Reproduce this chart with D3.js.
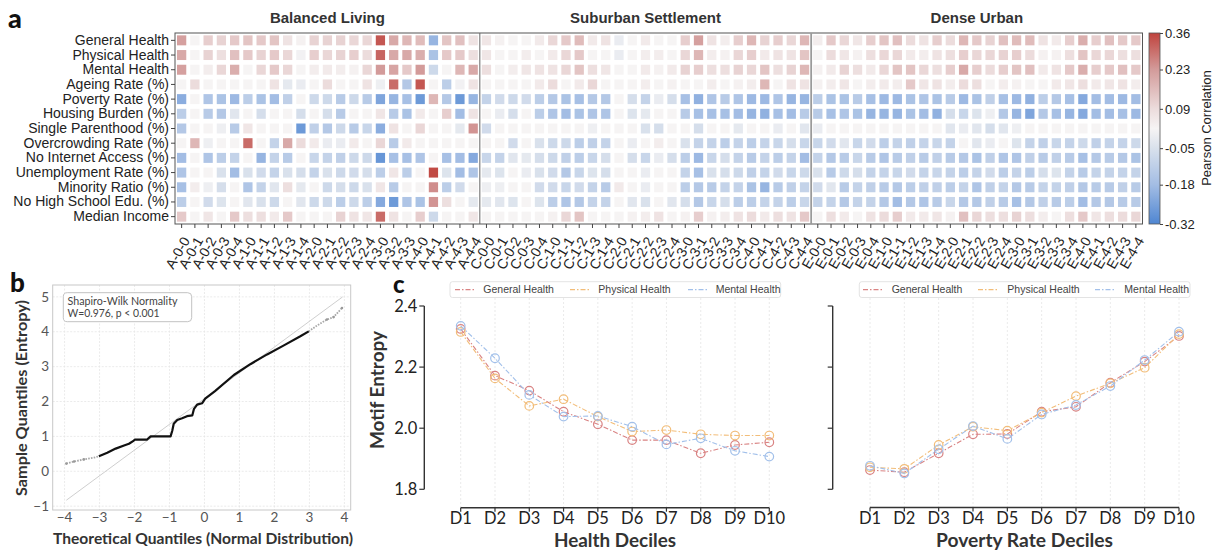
<!DOCTYPE html>
<html><head><meta charset="utf-8">
<script src="https://cdn.jsdelivr.net/npm/d3@7"></script>
<style>body{margin:0;background:#fff}svg{display:block}</style>
</head><body><svg id="c" width="1220" height="551"></svg>
<script>
// ---------------- DATA ----------------
const rowLabels = ["General Health","Physical Health","Mental Health","Ageing Rate (%)","Poverty Rate (%)","Housing Burden (%)","Single Parenthood (%)","Overcrowding Rate (%)","No Internet Access (%)","Unemployment Rate (%)","Minority Ratio (%)","No High School Edu. (%)","Median Income"];
const sectionNames = ["Balanced Living","Suburban Settlement","Dense Urban"];
const colsA = ["A-0-0","A-0-1","A-0-2","A-0-3","A-0-4","A-1-0","A-1-1","A-1-2","A-1-3","A-1-4","A-2-0","A-2-1","A-2-2","A-2-3","A-2-4","A-3-0","A-3-2","A-3-3","A-4-0","A-4-1","A-4-2","A-4-3","A-4-4"];
const colsC = ["C-0-0","C-0-1","C-0-2","C-0-3","C-0-4","C-1-0","C-1-1","C-1-2","C-1-3","C-1-4","C-2-0","C-2-1","C-2-2","C-2-3","C-2-4","C-3-0","C-3-1","C-3-2","C-3-3","C-3-4","C-4-0","C-4-1","C-4-2","C-4-3","C-4-4"];
const colsE = ["E-0-0","E-0-1","E-0-2","E-0-3","E-0-4","E-1-0","E-1-1","E-1-2","E-1-3","E-1-4","E-2-0","E-2-1","E-2-2","E-2-3","E-2-4","E-3-0","E-3-1","E-3-2","E-3-3","E-3-4","E-4-0","E-4-1","E-4-2","E-4-3","E-4-4"];

const valsA = [
[0.22,0.02,0.12,0.11,0.13,0.14,0.13,0.14,0.07,0.03,0.11,0.11,0.11,0.10,0.10,0.33,0.20,0.17,0.16,-0.20,0.14,0.15,0.07],
[0.20,0.02,0.11,0.08,0.15,0.13,0.11,0.13,0.10,0.01,0.12,0.10,0.11,0.12,0.09,0.31,0.20,0.20,0.19,-0.16,0.13,0.13,0.08],
[0.22,0.02,0.04,0.10,0.19,0.02,0.10,0.13,0.10,0.02,0.04,0.05,0.04,0.03,0.10,0.23,0.21,0.13,0.23,-0.08,0.02,0.17,0.20],
[0.02,0.09,0.02,0.02,0.02,0.02,0.02,0.07,-0.02,-0.01,0.02,0.09,0.02,0.02,0.07,0.00,0.30,-0.14,0.33,0.02,-0.12,0.01,0.07],
[-0.22,0.02,-0.15,-0.16,-0.19,-0.12,-0.16,-0.18,-0.11,0.02,-0.08,-0.08,-0.13,-0.08,-0.13,-0.24,-0.20,-0.17,-0.27,0.17,-0.14,-0.27,-0.20],
[-0.12,0.02,-0.13,-0.14,-0.03,0.02,-0.06,0.02,0.02,-0.06,0.02,-0.06,-0.13,0.02,0.02,0.06,-0.13,-0.16,0.05,0.02,0.12,-0.18,0.07],
[-0.14,0.02,0.02,0.00,-0.13,0.06,0.02,0.02,0.02,-0.27,-0.11,-0.14,-0.08,-0.13,-0.09,-0.22,0.07,0.02,0.10,0.02,0.02,-0.02,0.24],
[0.02,0.17,0.00,0.02,0.02,0.30,0.02,-0.10,0.20,0.09,0.05,-0.01,-0.01,0.05,0.02,0.10,-0.13,0.05,0.02,0.02,0.02,0.02,0.02],
[-0.18,0.02,-0.15,-0.12,-0.10,0.02,-0.20,-0.10,-0.13,0.02,-0.09,-0.10,-0.11,-0.08,-0.08,-0.28,-0.17,-0.17,-0.15,0.02,-0.17,-0.18,-0.23],
[-0.15,0.02,0.02,-0.05,-0.18,-0.05,-0.07,-0.10,-0.05,-0.06,-0.10,-0.05,-0.08,-0.07,-0.06,-0.12,0.06,-0.12,0.02,0.35,-0.04,-0.18,-0.15],
[-0.17,0.04,0.00,-0.06,0.02,-0.15,-0.10,-0.03,0.08,-0.02,0.02,-0.08,-0.06,-0.08,-0.05,0.06,-0.13,0.02,0.02,0.25,-0.12,-0.07,0.02],
[-0.12,0.02,-0.07,-0.04,0.02,-0.03,-0.05,-0.08,0.02,-0.03,-0.08,-0.08,-0.12,-0.08,-0.12,-0.23,-0.27,-0.15,-0.16,0.24,0.08,0.02,-0.02],
[0.13,0.02,0.06,0.02,0.13,0.08,0.08,0.05,0.13,0.02,0.02,0.02,0.11,0.07,0.06,0.30,0.07,0.02,0.12,-0.08,0.02,0.02,0.06]
];
const valsC = [
[0.06,0.03,0.02,0.02,0.05,0.10,0.13,0.16,0.05,0.07,-0.01,0.02,0.05,0.02,0.02,0.12,0.22,0.07,0.04,0.12,0.17,0.11,0.12,0.10,0.17],
[0.06,0.02,0.02,0.04,0.02,0.05,0.10,0.13,0.02,0.02,-0.01,0.02,0.04,0.04,0.02,0.10,0.17,0.04,0.03,0.10,0.12,0.05,0.07,0.07,0.14],
[0.08,0.02,0.04,0.06,0.07,0.07,0.10,0.14,0.08,0.06,0.02,0.02,0.05,0.03,0.05,0.11,0.12,0.08,0.08,0.11,0.10,0.14,0.08,0.11,0.17],
[0.02,0.02,0.02,0.02,0.05,0.09,0.02,0.05,0.10,0.02,0.02,0.02,0.04,0.02,0.03,0.02,0.02,0.04,0.02,0.03,0.04,0.17,0.02,0.07,0.07],
[-0.10,-0.07,-0.08,-0.07,-0.12,-0.14,-0.16,-0.17,-0.14,-0.14,0.02,-0.06,-0.10,-0.01,-0.06,-0.17,-0.21,-0.15,-0.13,-0.15,-0.19,-0.19,-0.15,-0.20,-0.20],
[0.02,-0.01,-0.06,0.02,-0.12,-0.15,-0.18,-0.16,-0.15,-0.15,0.02,-0.04,-0.02,0.02,0.02,-0.13,-0.17,-0.17,-0.17,-0.18,-0.20,-0.21,-0.17,-0.18,-0.13],
[-0.07,0.02,0.02,0.02,0.02,0.02,0.02,0.02,0.00,0.02,0.02,0.02,-0.05,-0.06,0.02,0.02,-0.06,0.02,0.02,-0.02,0.02,0.02,-0.01,0.02,-0.03],
[0.02,0.02,-0.07,0.02,-0.05,-0.08,-0.08,-0.12,-0.11,-0.10,0.02,-0.01,0.02,0.04,0.02,-0.05,-0.10,-0.10,-0.12,-0.10,-0.12,-0.10,-0.09,-0.06,-0.09],
[-0.09,-0.10,-0.03,-0.02,-0.06,-0.08,-0.11,-0.12,-0.09,-0.06,0.02,-0.06,-0.09,-0.01,-0.06,-0.12,-0.19,-0.09,-0.06,-0.10,-0.13,-0.10,-0.12,-0.10,-0.18],
[-0.02,-0.04,0.02,-0.01,-0.05,-0.07,-0.14,-0.09,-0.04,-0.06,0.02,0.02,-0.01,0.02,0.02,-0.10,-0.17,-0.05,-0.06,-0.08,-0.11,-0.10,-0.07,-0.09,-0.08],
[0.00,0.00,0.02,0.02,-0.07,-0.07,-0.09,-0.07,-0.10,-0.13,0.05,0.02,-0.01,0.02,0.02,-0.12,-0.14,-0.13,-0.10,-0.10,-0.16,-0.20,-0.13,-0.11,-0.10],
[-0.02,-0.03,-0.04,0.02,-0.04,-0.12,-0.15,-0.14,-0.10,-0.10,0.02,-0.03,-0.05,0.02,-0.03,-0.06,-0.14,-0.09,-0.06,-0.12,-0.12,-0.10,-0.10,-0.12,-0.09],
[0.02,0.02,0.02,0.02,0.02,0.03,0.10,0.14,0.02,0.02,0.02,0.03,0.04,0.07,0.02,0.03,0.12,0.03,0.04,0.07,0.09,0.05,0.08,0.07,0.13]
];
const valsE = [
[0.04,0.13,0.10,0.06,0.12,0.14,0.15,0.09,0.07,0.12,0.09,0.17,0.13,0.11,0.15,0.16,0.16,0.07,0.05,0.12,0.19,0.12,0.15,0.13,0.13],
[0.02,0.09,0.06,0.03,0.08,0.10,0.10,0.05,0.04,0.07,0.08,0.12,0.10,0.10,0.11,0.12,0.09,0.03,0.03,0.08,0.14,0.10,0.10,0.08,0.08],
[0.03,0.05,0.11,0.08,0.05,0.10,0.14,0.14,0.10,0.08,0.12,0.20,0.12,0.09,0.12,0.14,0.15,0.05,0.07,0.13,0.19,0.12,0.13,0.15,0.13],
[0.03,0.04,0.06,0.02,0.04,0.05,0.04,0.13,0.06,0.07,0.04,0.09,0.08,0.02,0.04,0.03,0.02,0.02,0.05,0.06,0.08,0.05,0.06,0.07,0.04],
[-0.12,-0.16,-0.16,-0.13,-0.17,-0.19,-0.19,-0.16,-0.15,-0.16,-0.13,-0.19,-0.16,-0.11,-0.17,-0.19,-0.21,-0.12,-0.14,-0.17,-0.23,-0.18,-0.18,-0.19,-0.18],
[-0.13,-0.17,-0.15,-0.16,-0.20,-0.20,-0.20,-0.16,-0.18,-0.21,-0.06,-0.09,-0.04,0.00,-0.14,-0.20,-0.24,-0.14,-0.17,-0.20,-0.23,-0.18,-0.18,-0.17,-0.19],
[-0.01,0.02,0.02,0.02,0.02,0.02,0.02,0.02,0.02,0.02,-0.03,-0.01,-0.03,-0.06,-0.03,0.00,0.02,0.02,0.02,0.02,0.02,0.02,0.02,0.02,0.02],
[-0.09,-0.07,-0.03,-0.09,-0.07,-0.12,-0.10,-0.11,-0.10,-0.09,-0.10,0.02,-0.03,-0.01,0.02,-0.04,-0.10,-0.11,-0.09,-0.10,-0.08,-0.11,-0.10,-0.10,-0.08],
[-0.10,-0.14,-0.13,-0.09,-0.13,-0.15,-0.13,-0.11,-0.13,-0.11,-0.13,-0.14,-0.16,-0.11,-0.15,-0.15,-0.11,-0.13,-0.11,-0.13,-0.17,-0.14,-0.13,-0.14,-0.16],
[-0.05,-0.13,-0.08,-0.06,-0.10,-0.10,-0.09,-0.07,-0.10,-0.09,-0.10,-0.12,-0.10,-0.07,-0.12,-0.10,-0.12,-0.06,-0.04,-0.10,-0.13,-0.10,-0.10,-0.10,-0.10],
[-0.07,-0.03,-0.13,-0.10,-0.11,-0.13,-0.14,-0.12,-0.11,-0.11,-0.12,-0.10,-0.15,-0.11,-0.10,-0.14,-0.13,-0.10,-0.10,-0.11,-0.14,-0.13,-0.13,-0.11,-0.13],
[-0.10,-0.10,-0.14,-0.10,-0.10,-0.14,-0.18,-0.14,-0.15,-0.13,-0.09,-0.14,-0.14,-0.11,-0.13,-0.17,-0.14,-0.11,-0.13,-0.12,-0.18,-0.14,-0.14,-0.13,-0.13],
[0.02,0.08,0.05,0.02,0.07,0.09,0.12,0.05,0.05,0.06,0.03,0.15,0.10,0.08,0.08,0.11,0.08,0.04,0.02,0.08,0.13,0.06,0.08,0.09,0.10]
];
const cbTicks = [0.36,0.23,0.09,-0.05,-0.18,-0.32];

// QQ plot
const qqTheoretical = [-3.95,-3.73,-3.45,-3.16,-3.02,-2.78,-2.54,-2.30,-2.16,-2.02,-1.99,-1.64,-1.54,-0.97,-0.92,-0.88,-0.78,-0.64,-0.50,-0.35,-0.30,-0.21,-0.07,0.02,0.30,0.84,1.31,1.79,2.27,2.74,2.98,3.22,3.50,3.69,3.93];
const qqSample      = [0.22,0.28,0.34,0.39,0.43,0.53,0.65,0.74,0.79,0.88,0.91,0.91,1.00,1.00,1.17,1.36,1.47,1.52,1.58,1.60,1.79,1.91,1.95,2.08,2.30,2.76,3.07,3.35,3.61,3.87,4.01,4.18,4.35,4.42,4.68];
const qqRefLine = [[-3.95,-0.83],[3.95,5.0]];
const qqTicksX = [-4,-3,-2,-1,0,1,2,3,4];
const qqTicksY = [-1,0,1,2,3,4,5];

// Decile line charts
const deciles = ["D1","D2","D3","D4","D5","D6","D7","D8","D9","D10"];
const seriesNames = ["General Health","Physical Health","Mental Health"];
const healthGeneral  = [2.325,2.172,2.123,2.054,2.013,1.961,1.961,1.918,1.945,1.954];
const healthPhysical = [2.315,2.163,2.073,2.095,2.038,1.989,1.994,1.980,1.976,1.976];
const healthMental   = [2.335,2.229,2.109,2.038,2.040,2.005,1.947,1.967,1.926,1.907];
const povGeneral  = [1.863,1.856,1.918,1.980,1.981,2.054,2.070,2.149,2.218,2.302];
const povPhysical = [1.872,1.867,1.945,2.005,1.992,2.051,2.105,2.147,2.198,2.308];
const povMental   = [1.877,1.852,1.931,2.007,1.965,2.045,2.076,2.138,2.223,2.316];
const entropyTicks = [1.8,2.0,2.2,2.4];

// ---------------- DRAW ----------------
const svg = d3.select("#c");
svg.append("rect").attr("width",1220).attr("height",551).attr("fill","#fff");
const ARIAL = "'Liberation Sans', Arial, sans-serif";
const ROUND = "Lato, 'Open Sans', sans-serif";

// ---- Panel a: heatmap
const cols = [...colsA, ...colsC, ...colsE];
const matrix = rowLabels.map((r,i)=>[...valsA[i], ...valsC[i], ...valsE[i]]);
const hx = d3.scaleBand().domain(cols).range([175,1142.5]);
const hy = d3.scaleBand().domain(rowLabels).range([33,224]);
const cStops = [-0.32,-0.18,-0.05,0.02,0.09,0.23,0.36];
const cCols  = ["#4f86d2","#a3bde4","#d9e1ec","#f6f4f4","#ecdcdc","#d39b9a","#c0433d"];
const color = d3.scaleLinear().domain(cStops).range(cCols).clamp(true);

const gH = svg.append("g");
const bw = hx.bandwidth(), bh = hy.bandwidth();
matrix.forEach((row,i)=>{
  row.forEach((v,j)=>{
    gH.append("rect")
      .attr("x", hx(cols[j]) + bw*0.15)
      .attr("y", hy(rowLabels[i]) + bh*0.16)
      .attr("width", bw*0.7).attr("height", bh*0.68)
      .attr("fill", color(v));
  });
});
gH.append("rect").attr("x",175).attr("y",33).attr("width",1142.5-175).attr("height",191)
  .attr("fill","none").attr("stroke","#555").attr("stroke-width",1);
gH.append("line").attr("x1",hx(colsC[0])).attr("x2",hx(colsC[0])).attr("y1",33).attr("y2",224)
  .attr("stroke","#666").attr("stroke-width",1);
gH.append("line").attr("x1",hx(colsE[0])).attr("x2",hx(colsE[0])).attr("y1",33).attr("y2",224)
  .attr("stroke","#9a9a9a").attr("stroke-width",1.8);
[colsA,colsC,colsE].forEach((cs,k)=>{
  const cx = (hx(cs[0]) + hx(cs[cs.length-1]) + bw)/2;
  gH.append("text").attr("x",cx).attr("y",23).attr("text-anchor","middle")
    .attr("font-family",ARIAL).attr("font-weight","bold").attr("font-size",15).attr("fill","#333")
    .text(sectionNames[k]);
});
const yAx = gH.append("g").attr("transform","translate(175,0)")
  .call(d3.axisLeft(hy).tickSize(4).tickSizeOuter(0).tickPadding(2));
yAx.select(".domain").remove();
yAx.selectAll("line").attr("stroke","#444");
yAx.selectAll("text").attr("font-family",ARIAL).attr("font-size",14).attr("fill","#222");
const xAx = gH.append("g").attr("transform","translate(0,224)")
  .call(d3.axisBottom(hx).tickSize(4).tickSizeOuter(0));
xAx.select(".domain").remove();
xAx.selectAll("line").attr("stroke","#444");
xAx.selectAll("text").attr("font-family",ARIAL).attr("font-size",14).attr("fill","#222")
  .attr("text-anchor","end").attr("dy","0.35em").attr("y",0)
  .attr("transform","translate(4.5,14) rotate(-60)");

// colorbar
const defs = svg.append("defs");
const grad = defs.append("linearGradient").attr("id","cbg").attr("x1",0).attr("y1",1).attr("x2",0).attr("y2",0);
cStops.forEach((s,i)=>grad.append("stop").attr("offset",(s+0.32)/0.68).attr("stop-color",cCols[i]));
const cbY = d3.scaleLinear().domain([-0.32,0.36]).range([224,33]);
svg.append("rect").attr("x",1149).attr("y",33).attr("width",11).attr("height",191)
  .attr("fill","url(#cbg)").attr("stroke","#555").attr("stroke-width",0.8);
const cbAx = svg.append("g").attr("transform","translate(1160,0)")
  .call(d3.axisRight(cbY).tickValues(cbTicks).tickSize(3).tickPadding(2).tickFormat(d=>d.toFixed(2)));
cbAx.select(".domain").remove();
cbAx.selectAll("line").attr("stroke","#444");
cbAx.selectAll("text").attr("font-family",ARIAL).attr("font-size",13).attr("fill","#222");
svg.append("text").attr("transform","translate(1211,128) rotate(-90)").attr("text-anchor","middle")
  .attr("font-family",ARIAL).attr("font-size",13).attr("fill","#222").text("Pearson Correlation");

// panel labels
const lab = (t,x,y,s)=>svg.append("text").attr("x",x).attr("y",y).attr("font-family",ROUND)
  .attr("font-weight",900).attr("font-size",s).attr("fill","#111").text(t);
lab("a",8,28,27); lab("b",10,292,26); lab("c",393,293,24);

// ---- Panel b: QQ plot
const bx = d3.scaleLinear().domain([-4.34,4.18]).range([52.7,350.7]);
const by = d3.scaleLinear().domain([-1.11,5.34]).range([510,285]);
const gB = svg.append("g");
qqTicksX.forEach(t=>gB.append("line").attr("x1",bx(t)).attr("x2",bx(t)).attr("y1",285).attr("y2",510)
  .attr("stroke","#e6e6e6").attr("stroke-dasharray","2,1.5").attr("stroke-width",0.8));
qqTicksY.forEach(t=>gB.append("line").attr("y1",by(t)).attr("y2",by(t)).attr("x1",52.7).attr("x2",350.7)
  .attr("stroke","#e6e6e6").attr("stroke-dasharray","2,1.5").attr("stroke-width",0.8));
gB.append("rect").attr("x",52.7).attr("y",285).attr("width",298).attr("height",225)
  .attr("fill","none").attr("stroke","#c8c8c8").attr("stroke-width",1);
gB.append("line").attr("x1",bx(qqRefLine[0][0])).attr("y1",by(qqRefLine[0][1]))
  .attr("x2",bx(qqRefLine[1][0])).attr("y2",by(qqRefLine[1][1]))
  .attr("stroke","#cfcfcf").attr("stroke-width",1);
const qq = qqTheoretical.map((t,i)=>[t,qqSample[i]]);
const qline = d3.line().x(d=>bx(d[0])).y(d=>by(d[1]));
const leftTail = qq.filter(d=>d[0]<=-3.02), rightTail = qq.filter(d=>d[0]>=2.98);
const mid = qq.filter(d=>d[0]>=-3.02 && d[0]<=2.98);
gB.append("path").attr("d",qline(leftTail)).attr("fill","none").attr("stroke","#a8a8a8")
  .attr("stroke-width",1.8).attr("stroke-dasharray","1.6,1.2");
gB.append("path").attr("d",qline(rightTail)).attr("fill","none").attr("stroke","#a8a8a8")
  .attr("stroke-width",1.8).attr("stroke-dasharray","1.6,1.2");
gB.append("path").attr("d",qline(mid)).attr("fill","none").attr("stroke","#111").attr("stroke-width",2.2)
  .attr("stroke-linejoin","round");
qq.filter(d=>d[0]<=-3.4 || d[0]>=3.4).forEach(d=>gB.append("circle").attr("cx",bx(d[0])).attr("cy",by(d[1]))
  .attr("r",1.3).attr("fill","#9a9a9a"));
qqTicksX.forEach(t=>gB.append("text").attr("x",bx(t)).attr("y",522).attr("text-anchor","middle")
  .attr("font-family",ROUND).attr("font-size",13.5).attr("fill","#555").text(d3.format("d")(t)));
qqTicksY.forEach(t=>gB.append("text").attr("x",49).attr("y",by(t)).attr("dy","0.35em").attr("text-anchor","end")
  .attr("font-family",ROUND).attr("font-size",13.5).attr("fill","#555").text(d3.format("d")(t)));
gB.append("rect").attr("x",63.3).attr("y",292.7).attr("width",128.4).attr("height",29).attr("rx",4)
  .attr("fill","#fff").attr("stroke","#bbb").attr("stroke-width",0.9);
gB.append("text").attr("x",67.5).attr("y",305).attr("font-family",ROUND).attr("font-size",11.5).attr("fill","#444")
  .attr("textLength",110).attr("lengthAdjust","spacingAndGlyphs").text("Shapiro-Wilk Normality");
gB.append("text").attr("x",67.5).attr("y",316.5).attr("font-family",ROUND).attr("font-size",11.5).attr("fill","#444")
  .attr("textLength",92).attr("lengthAdjust","spacingAndGlyphs").text("W=0.976, p < 0.001");
gB.append("text").attr("x",203).attr("y",544).attr("text-anchor","middle").attr("font-family",ROUND)
  .attr("font-weight","bold").attr("font-size",15.5).attr("fill","#333")
  .attr("textLength",300).attr("lengthAdjust","spacingAndGlyphs").text("Theoretical Quantiles (Normal Distribution)");
gB.append("text").attr("transform","translate(27,398) rotate(-90)").attr("text-anchor","middle").attr("font-family",ROUND)
  .attr("font-weight","bold").attr("font-size",15.5).attr("fill","#333")
  .attr("textLength",196).attr("lengthAdjust","spacingAndGlyphs").text("Sample Quantiles (Entropy)");

// ---- Panel c: decile line charts
const cy = d3.scaleLinear().domain([1.8,2.4]).range([489.3,306]);
const lineColors = ["#d98383","#f2bd79","#a2c0ea"];
function decilePanel(xRange, yAxisX, xAxisY, data, xTitle, titleLen, showYLabels, legendBox, legendSamples, legendLabels){
  const g = svg.append("g");
  const sx = d3.scalePoint().domain(deciles).range(xRange);
  deciles.forEach(d=>g.append("line").attr("x1",sx(d)).attr("x2",sx(d)).attr("y1",298).attr("y2",xAxisY)
    .attr("stroke","#e4e4e4").attr("stroke-dasharray","2,2").attr("stroke-width",0.8));
  g.append("line").attr("x1",yAxisX).attr("x2",yAxisX).attr("y1",cy(1.8)).attr("y2",cy(2.4))
    .attr("stroke","#333").attr("stroke-width",1.4);
  entropyTicks.forEach(t=>{
    g.append("line").attr("x1",yAxisX-5).attr("x2",yAxisX).attr("y1",cy(t)).attr("y2",cy(t)).attr("stroke","#333").attr("stroke-width",1.2);
    if(showYLabels) g.append("text").attr("x",yAxisX-7).attr("y",cy(t)).attr("dy","0.36em").attr("text-anchor","end")
      .attr("font-family",ROUND).attr("font-size",16.5).attr("fill","#222").text(t.toFixed(1));
  });
  g.append("line").attr("x1",xRange[0]).attr("x2",xRange[1]).attr("y1",xAxisY).attr("y2",xAxisY)
    .attr("stroke","#333").attr("stroke-width",1.4);
  deciles.forEach(d=>{
    g.append("line").attr("x1",sx(d)).attr("x2",sx(d)).attr("y1",xAxisY).attr("y2",xAxisY+4).attr("stroke","#333").attr("stroke-width",1.2);
    g.append("text").attr("x",sx(d)).attr("y",xAxisY+16).attr("text-anchor","middle")
      .attr("font-family",ROUND).attr("font-size",16.5).attr("fill","#222").text(d);
  });
  g.append("text").attr("x",(xRange[0]+xRange[1])/2).attr("y",547).attr("text-anchor","middle")
    .attr("font-family",ROUND).attr("font-weight","bold").attr("font-size",18.5).attr("fill","#333")
    .attr("textLength",titleLen).attr("lengthAdjust","spacingAndGlyphs").text(xTitle);
  const ln = d3.line().x((d,i)=>sx(deciles[i])).y(d=>cy(d));
  data.forEach((s,k)=>{
    g.append("path").attr("d",ln(s)).attr("fill","none").attr("stroke",lineColors[k]).attr("stroke-width",1.1)
      .attr("stroke-dasharray","5,2,1.5,2");
    s.forEach((v,i)=>g.append("circle").attr("cx",sx(deciles[i])).attr("cy",cy(v)).attr("r",4.3)
      .attr("fill","none").attr("stroke",lineColors[k]).attr("stroke-width",1.2));
  });
  g.append("rect").attr("x",legendBox[0]).attr("y",281.7).attr("width",legendBox[1]-legendBox[0]).attr("height",15.8)
    .attr("rx",2.5).attr("fill","#fff").attr("stroke","#dcdcdc").attr("stroke-width",0.8);
  seriesNames.forEach((n,k)=>{
    g.append("line").attr("x1",legendSamples[k]).attr("x2",legendSamples[k]+21).attr("y1",289.6).attr("y2",289.6)
      .attr("stroke",lineColors[k]).attr("stroke-width",1.1).attr("stroke-dasharray","5,2,1.5,2");
    g.append("text").attr("x",legendLabels[k]).attr("y",289.6).attr("dy","0.35em")
      .attr("font-family",ARIAL).attr("font-size",10.5).attr("fill","#444").text(n);
  });
}
decilePanel([460.7,769.3],424.3,507.7,[healthGeneral,healthPhysical,healthMental],"Health Deciles",122,true,
  [450,780.7],[455,570,688],[483.3,598.3,715.7]);
decilePanel([870,1179],832.7,507.5,[povGeneral,povPhysical,povMental],"Poverty Rate Deciles",177,false,
  [859.3,1190],[863,978,1095],[891.7,1007.3,1124.3]);
svg.append("text").attr("transform","translate(383.5,390) rotate(-90)").attr("text-anchor","middle")
  .attr("font-family",ROUND).attr("font-weight","bold").attr("font-size",18.5).attr("fill","#333")
  .attr("textLength",118).attr("lengthAdjust","spacingAndGlyphs").text("Motif Entropy");
</script>
</body></html>
